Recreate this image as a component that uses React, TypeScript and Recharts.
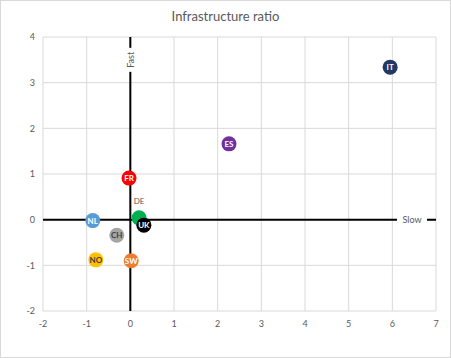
import { ScatterChart, Scatter, XAxis, YAxis, CartesianGrid, ReferenceLine, ReferenceDot } from "recharts";

const countries = ["IT", "ES", "FR", "NL", "CH", "NO", "SW", "DE", "UK"];
const ratioX = [5.95, 2.26, -0.03, -0.86, -0.31, -0.79, 0.02, 0.2, 0.31];
const ratioY = [3.34, 1.66, 0.91, -0.02, -0.34, -0.88, -0.9, 0.04, -0.12];
const xTicks = [-2, -1, 0, 1, 2, 3, 4, 5, 6, 7];
const yTicks = [-2, -1, 0, 1, 2, 3, 4];

const markerColors: Record<string, string> = {
  IT: "#203864",
  ES: "#7030a0",
  FR: "#ff0000",
  NL: "#5b9bd5",
  CH: "#a5a5a5",
  NO: "#ffc000",
  SW: "#ed7d31",
  DE: "#00b050",
  UK: "#000000",
};
const textColors: Record<string, string> = { NO: "#404040", CH: "#404040" };

const data = countries.map((name, i) => ({ name, x: ratioX[i], y: ratioY[i] }));

const FONT = "Lato, 'Open Sans', sans-serif";

function Marker(props: any) {
  const { cx, cy, payload } = props;
  const name = payload.name;
  if (name === "DE") {
    return (
      <g>
        <circle cx={cx} cy={cy} r={7.5} fill={markerColors[name]} />
        <text x={cx} y={cy - 14} textAnchor="middle" fontSize={8} fill="#595959" fontFamily={FONT}>
          {name}
        </text>
      </g>
    );
  }
  return (
    <g>
      <circle cx={cx} cy={cy} r={7.5} fill={markerColors[name]} />
      <text
        x={cx}
        y={cy + 3}
        textAnchor="middle"
        fontSize={8}
        fontWeight={700}
        fill={textColors[name] || "#ffffff"}
        fontFamily={FONT}
      >
        {name}
      </text>
    </g>
  );
}

function FastLabel(props: any) {
  const { cx, cy } = props;
  return (
    <g>
      <rect x={cx - 6} y={cy - 12} width={12} height={24} fill="#ffffff" />
      <text
        x={cx}
        y={cy}
        transform={`rotate(-90 ${cx} ${cy})`}
        textAnchor="middle"
        dominantBaseline="central"
        fontSize={9}
        fill="#595959"
        fontFamily={FONT}
      >
        Fast
      </text>
    </g>
  );
}

function SlowLabel(props: any) {
  const { cx, cy } = props;
  return (
    <g>
      <rect x={cx - 15} y={cy - 6} width={30} height={12} fill="#ffffff" />
      <text x={cx} y={cy} textAnchor="middle" dominantBaseline="central" fontSize={9} fill="#595959" fontFamily={FONT}>
        Slow
      </text>
    </g>
  );
}

export default function App() {
  return (
    <div
      style={{
        position: "absolute",
        left: 0,
        top: 0,
        width: 449,
        height: 356,
        border: "1px solid #d9d9d9",
        background: "#fff",
        fontFamily: FONT,
      }}
    >
      <div
        style={{
          position: "absolute",
          top: 7,
          left: 0,
          width: "100%",
          textAlign: "center",
          fontSize: 13,
          color: "#595959",
        }}
      >
        Infrastructure ratio
      </div>
      <div style={{ position: "absolute", left: -1, top: -1 }}>
        <ScatterChart width={451} height={358} margin={{ top: 37, right: 15, bottom: 17, left: 0 }}>
          <CartesianGrid stroke="#d9d9d9" strokeWidth={1} />
          <XAxis
            type="number"
            dataKey="x"
            domain={[-2, 7]}
            ticks={xTicks}
            interval={0}
            axisLine={false}
            tickLine={false}
            tickSize={4}
            tickMargin={6}
            height={30}
            tick={{ fontSize: 9, fill: "#595959", fontFamily: FONT }}
          />
          <YAxis
            type="number"
            dataKey="y"
            domain={[-2, 4]}
            ticks={yTicks}
            interval={0}
            axisLine={false}
            tickLine={false}
            tickSize={4}
            tickMargin={4}
            width={43}
            tick={{ fontSize: 9, fill: "#595959", fontFamily: FONT }}
          />
          <ReferenceLine x={0} stroke="#000000" strokeWidth={2} />
          <ReferenceLine y={0} stroke="#000000" strokeWidth={2} />
          <ReferenceDot x={0} y={3.5} r={0} shape={FastLabel} />
          <ReferenceDot x={6.45} y={0} r={0} shape={SlowLabel} />
          <Scatter data={data} shape={Marker} isAnimationActive={false} />
        </ScatterChart>
      </div>
    </div>
  );
}
